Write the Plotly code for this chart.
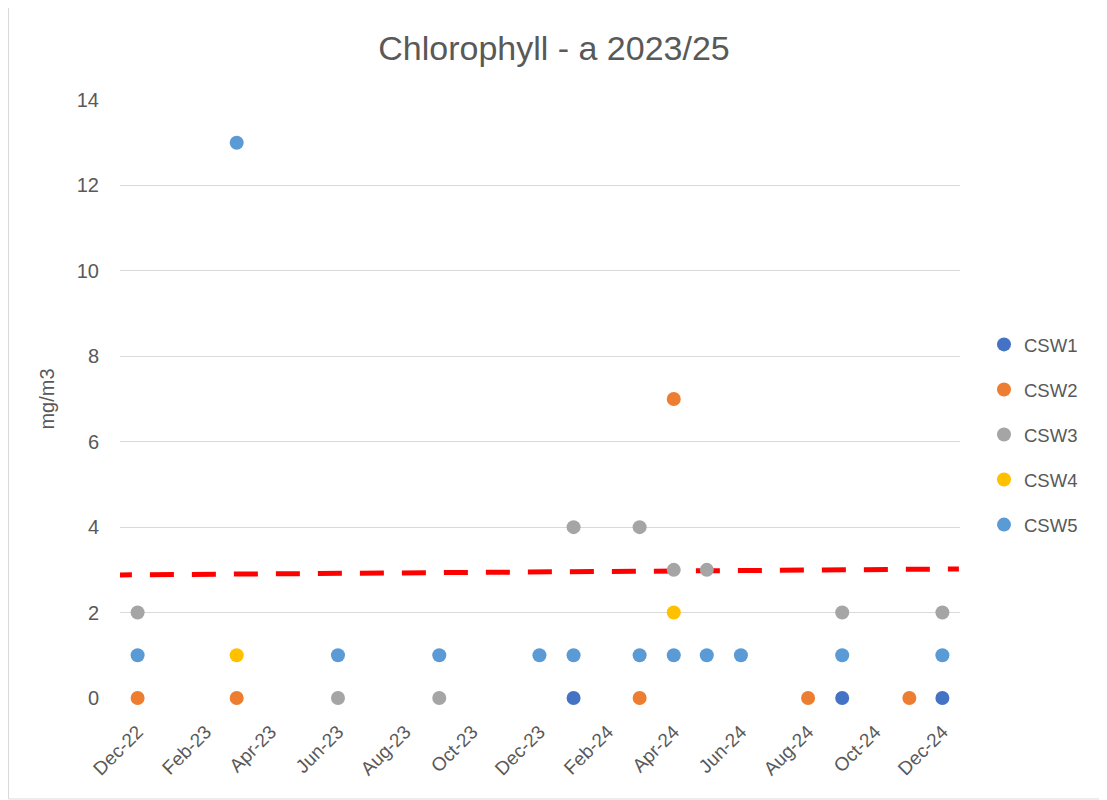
import plotly.graph_objects as go

# sampling dates per site and chlorophyll-a values (mg/m3)
csw1_dates = ["2024-01-01", "2024-09-01", "2024-12-01"]
csw1_values = [0, 0, 0]

csw2_dates = ["2022-12-01", "2023-03-01", "2024-03-01", "2024-04-01", "2024-08-01", "2024-11-01"]
csw2_values = [0, 0, 0, 7, 0, 0]

csw3_dates = ["2022-12-01", "2023-06-01", "2023-09-01", "2024-01-01", "2024-03-01",
              "2024-04-01", "2024-05-01", "2024-09-01", "2024-12-01"]
csw3_values = [2, 0, 0, 4, 4, 3, 3, 2, 2]

csw4_dates = ["2023-03-01", "2024-04-01"]
csw4_values = [1, 2]

csw5_dates = ["2022-12-01", "2023-03-01", "2023-06-01", "2023-09-01", "2023-12-01", "2024-01-01",
              "2024-03-01", "2024-04-01", "2024-05-01", "2024-06-01", "2024-09-01", "2024-12-01"]
csw5_values = [1, 13, 1, 1, 1, 1, 1, 1, 1, 1, 1, 1]

# linear trend line shown in red
trend_dates = ["2022-11-04", "2024-12-16"]
trend_values = [2.88, 3.02]

series = [
    ("CSW1", csw1_dates, csw1_values, "#4472C4"),
    ("CSW2", csw2_dates, csw2_values, "#ED7D31"),
    ("CSW3", csw3_dates, csw3_values, "#A5A5A5"),
    ("CSW4", csw4_dates, csw4_values, "#FFC000"),
    ("CSW5", csw5_dates, csw5_values, "#5B9BD5"),
]

font = "Liberation Sans"
grey = "#595959"

fig = go.Figure()
fig.add_trace(go.Scatter(
    x=trend_dates, y=trend_values, mode="lines", showlegend=False,
    line=dict(color="#FF0000", width=5, dash="24px,18px"), cliponaxis=False,
))
for name, d, v, c in series:
    fig.add_trace(go.Scatter(
        x=d, y=v, mode="markers", name=name, legendgroup=name,
        marker=dict(color=c, size=14), cliponaxis=False,
    ))

# page body has an 8px margin, so the figure is sized to fit the window
W, H = 1099, 792
L, R, T, B = 112, 147, 92, 102
pw, ph = W - L - R, H - T - B

fig.update_layout(
    width=W, height=H,
    paper_bgcolor="white", plot_bgcolor="white",
    margin=dict(l=L, r=R, t=T, b=B),
    font=dict(family=font, color=grey, size=16),
    title=dict(text="Chlorophyll - a 2023/25", x=(554 - 8) / W, xref="container", xanchor="center",
               y=1 - (48 - 8) / H, yanchor="middle", font=dict(size=34, color=grey)),
    legend=dict(x=(984 - 120) / pw, y=0.44, xanchor="left", yanchor="middle",
                font=dict(size=18.5, color=grey), tracegroupgap=18, itemwidth=30),
    shapes=[dict(type="rect", xref="paper", yref="paper",
                 x0=-(L - 0.5) / pw, x1=1 + (R - 1) / pw, y0=-(B - 1) / ph, y1=1 + (T + 7.5) / ph,
                 line=dict(color="#D9D9D9", width=1))],
)
fig.update_xaxes(
    type="date", range=["2022-11-15", "2024-12-17"],
    tick0="2022-12-01", dtick="M2", tickformat="%b-%y", tickangle=-45,
    showgrid=False, zeroline=False, showline=False, ticks="", ticklabelstandoff=18,
    tickfont=dict(size=19, color=grey),
)
fig.update_yaxes(
    range=[0, 14], dtick=2, showgrid=True, gridcolor="#D9D9D9", gridwidth=1,
    zeroline=False, showline=False, ticks="", ticklabelstandoff=20,
    title=dict(text="mg/m3", font=dict(size=20, color=grey), standoff=16),
    tickfont=dict(size=20, color=grey),
)

fig.write_html("out.html")
